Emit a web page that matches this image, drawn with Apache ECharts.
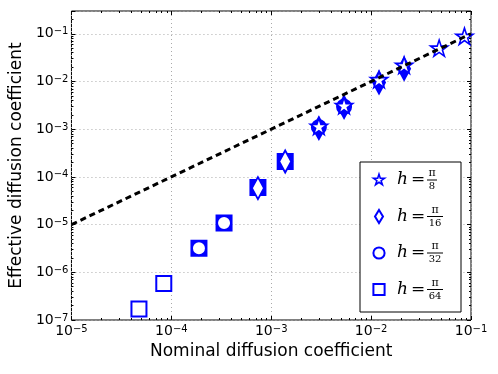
<!DOCTYPE html>
<html>
<head>
<meta charset="utf-8">
<script src="https://cdn.jsdelivr.net/npm/echarts@6/dist/echarts.min.js"></script>
<style>
html, body { margin: 0; padding: 0; background: #fff; }
#chart { width: 498px; height: 374px; }
</style>
</head>
<body>
<div id="chart"></div>
<script>
// values, one pair of lists per mesh size h
var nominalPi64   = [4.74e-5, 8.4e-5, 1.89e-4, 3.37e-4, 7.36e-4, 1.38e-3];
var effectivePi64 = [1.7e-7, 5.8e-7, 3.18e-6, 1.08e-5, 6.0e-5, 2.1e-4];

var nominalPi32   = [1.89e-4, 3.37e-4, 7.36e-4, 1.38e-3, 3.0e-3, 5.36e-3];
var effectivePi32 = [3.2e-6, 1.08e-5, 6.0e-5, 2.1e-4, 1.1e-3, 2.95e-3];

var nominalPi16   = [7.36e-4, 1.38e-3, 3.0e-3, 5.36e-3, 1.2e-2, 2.14e-2];
var effectivePi16 = [5.8e-5, 2.1e-4, 1.05e-3, 2.9e-3, 9.5e-3, 1.85e-2];

var nominalPi8    = [3.0e-3, 5.36e-3, 1.2e-2, 2.14e-2, 4.8e-2, 8.6e-2];
var effectivePi8  = [1.1e-3, 3.0e-3, 1.05e-2, 2.1e-2, 4.8e-2, 8.5e-2];

// reference line effective = nominal
var refLineX = [1e-5, 1e-1];
var refLineY = [1e-5, 1e-1];

var legendDen = { 'h=π/8': '8', 'h=π/16': '16', 'h=π/32': '32', 'h=π/64': '64' };

var BLUE = '#0000ff';
var font = 'DejaVu Sans';

var starPath = 'path://M0,1M0,-1L0.2245,-0.309L0.951,-0.309L0.3633,0.118L0.588,0.809L0,0.382L-0.588,0.809L-0.3633,0.118L-0.951,-0.309L-0.2245,-0.309Z';
// legend icons, padded so they come out smaller than the box
var iconStar = 'path://M-1.2,-1.2M1.2,1.2M0,-1L0.2245,-0.309L0.951,-0.309L0.3633,0.118L0.588,0.809L0,0.382L-0.588,0.809L-0.3633,0.118L-0.951,-0.309L-0.2245,-0.309Z';
var iconDiamond = 'path://M-1,-1M1,1M0,-0.93L0.57,0L0,0.93L-0.57,0Z';
var iconCircle = 'path://M-1,-1M1,1M-0.8,0A0.8,0.8 0 1,0 0.8,0A0.8,0.8 0 1,0 -0.8,0Z';
var iconSquare = 'path://M-1,-1M1,1M-0.8,-0.8L0.8,-0.8L0.8,0.8L-0.8,0.8Z';

// a marker that has another one drawn over it looks solid blue
function points(xs, ys, laterXs) {
    return xs.map(function (x, i) {
        var covered = laterXs.some(function (l) { return l.indexOf(x) >= 0; });
        var p = { value: [x, ys[i]] };
        if (covered) p.itemStyle = { color: BLUE };
        return p;
    });
}

function powLabel(v) {
    var e = Math.log10(v);
    if (Math.abs(e - Math.round(e)) > 1e-6) return '';
    return '{b|10}{s|' + String(Math.round(e)).replace('-', '\u2212') + '}';
}

var tickRich = {
    b: { fontFamily: font, fontSize: 14, lineHeight: 14, verticalAlign: 'bottom', color: '#000' },
    s: { fontFamily: font, fontSize: 10, lineHeight: 10, verticalAlign: 'top', color: '#000' }
};

var markerStyle = { color: '#fff', borderColor: BLUE, borderWidth: 2, opacity: 1 };
var starStyle = { color: '#fff', borderColor: BLUE, borderWidth: 1.6, opacity: 1 };
var gridDots = { color: '#aaa', type: [1, 3] };

var myChart = echarts.init(document.getElementById('chart'));

var option = {
    animation: false,
    grid: { left: 67, right: 27, top: 11, bottom: 54, show: true, borderColor: '#000', borderWidth: 1 },
    xAxis: [
        {
            type: 'log', min: 1e-5, max: 1e-1, splitNumber: 4,
            name: 'Nominal diffusion coefficient', nameLocation: 'middle', nameGap: 22,
            nameTextStyle: { fontFamily: font, fontSize: 17, color: '#000' },
            axisLine: { show: false },
            axisTick: { inside: true, length: 4, lineStyle: { color: '#000' } },
            minorTick: { show: true, splitNumber: 9, length: 2, lineStyle: { color: '#000' } },
            axisLabel: { margin: 4, formatter: powLabel, rich: tickRich },
            splitLine: { show: true, lineStyle: gridDots }
        },
        {
            type: 'log', min: 1e-5, max: 1e-1, splitNumber: 4, position: 'top',
            axisLine: { show: false },
            axisTick: { inside: true, length: 4, lineStyle: { color: '#000' } },
            minorTick: { show: true, splitNumber: 9, length: 2, lineStyle: { color: '#000' } },
            axisLabel: { show: false }, splitLine: { show: false }
        }
    ],
    yAxis: [
        {
            type: 'log', min: 1e-7, max: 0.3, splitNumber: 7,
            name: 'Effective diffusion coefficient', nameLocation: 'middle', nameGap: 40, nameRotate: 90,
            nameTextStyle: { fontFamily: font, fontSize: 17, color: '#000' },
            axisLine: { show: false },
            axisTick: { inside: true, length: 4, lineStyle: { color: '#000' } },
            minorTick: { show: true, splitNumber: 9, length: 2, lineStyle: { color: '#000' } },
            axisLabel: { margin: 3, formatter: powLabel, rich: tickRich },
            splitLine: { show: true, lineStyle: gridDots }
        },
        {
            type: 'log', min: 1e-7, max: 0.3, splitNumber: 7, position: 'right',
            axisLine: { show: false },
            axisTick: { inside: true, length: 4, lineStyle: { color: '#000' } },
            minorTick: { show: true, splitNumber: 9, length: 2, lineStyle: { color: '#000' } },
            axisLabel: { show: false }, splitLine: { show: false }
        }
    ],
    legend: {
        orient: 'vertical', left: 360, top: 162,
        padding: [6, 18, 11, 11], itemGap: 13, itemWidth: 14, itemHeight: 14,
        backgroundColor: '#fff', borderColor: '#000', borderWidth: 1, borderRadius: 0,
        itemStyle: { color: '#fff', borderColor: BLUE, borderWidth: 2, opacity: 1 },
        data: [
            { name: 'h=π/8', icon: iconStar, itemStyle: { borderWidth: 1.6 } },
            { name: 'h=π/16', icon: iconDiamond },
            { name: 'h=π/32', icon: iconCircle },
            { name: 'h=π/64', icon: iconSquare }
        ],
        formatter: function (name) {
            var d = legendDen[name];
            var k = d.length > 1 ? 'L' : 'S';
            return '{sp|}{pad|}{num' + k + '|π}\n{sp|}{h|h}{eq|=}{bar' + k + '|}\n{sp|}{pad|}{den' + k + '|' + d + '}';
        },
        textStyle: {
            fontSize: 4, lineHeight: 4,
            rich: {
                sp: { width: 6, fontSize: 4, lineHeight: 4 },
                pad: { width: 30, fontSize: 4, lineHeight: 4 },
                h: { fontFamily: 'DejaVu Serif', fontStyle: 'italic', fontSize: 17, width: 12, lineHeight: 4, color: '#000' },
                eq: { fontFamily: 'DejaVu Serif', fontSize: 17, width: 18, align: 'center', lineHeight: 4, color: '#000' },
                numS: { fontFamily: 'DejaVu Serif', fontSize: 11, width: 10, align: 'center', lineHeight: 9, color: '#000' },
                numL: { fontFamily: 'DejaVu Serif', fontSize: 11, width: 16, align: 'center', lineHeight: 9, color: '#000' },
                denS: { fontFamily: 'DejaVu Serif', fontSize: 10, width: 10, align: 'center', lineHeight: 9, color: '#000' },
                denL: { fontFamily: 'DejaVu Serif', fontSize: 10, width: 16, align: 'center', lineHeight: 9, color: '#000' },
                barS: { width: 10, height: 1, fontSize: 4, lineHeight: 4, backgroundColor: '#000' },
                barL: { width: 16, height: 1, fontSize: 4, lineHeight: 4, backgroundColor: '#000' }
            }
        }
    },
    series: [
        {
            name: 'h=π/64', type: 'scatter', symbol: 'rect', symbolSize: 15,
            itemStyle: markerStyle,
            data: points(nominalPi64, effectivePi64, [nominalPi32, nominalPi16, nominalPi8])
        },
        {
            name: 'h=π/32', type: 'scatter', symbol: 'circle', symbolSize: 14,
            itemStyle: markerStyle,
            data: points(nominalPi32, effectivePi32, [nominalPi16, nominalPi8])
        },
        {
            name: 'h=π/16', type: 'scatter', symbol: 'diamond', symbolSize: [12, 22],
            itemStyle: markerStyle,
            data: points(nominalPi16, effectivePi16, [nominalPi8])
        },
        {
            name: 'h=π/8', type: 'scatter', symbol: starPath, symbolSize: [17, 18],
            itemStyle: starStyle,
            data: points(nominalPi8, effectivePi8, [])
        },
        {
            name: 'reference', type: 'line', symbol: 'none', silent: true, z: 5,
            lineStyle: { color: '#000', width: 3, type: [6, 4] },
            data: refLineX.map(function (x, i) { return [x, refLineY[i]]; })
        }
    ]
};

myChart.setOption(option);
</script>
</body>
</html>
